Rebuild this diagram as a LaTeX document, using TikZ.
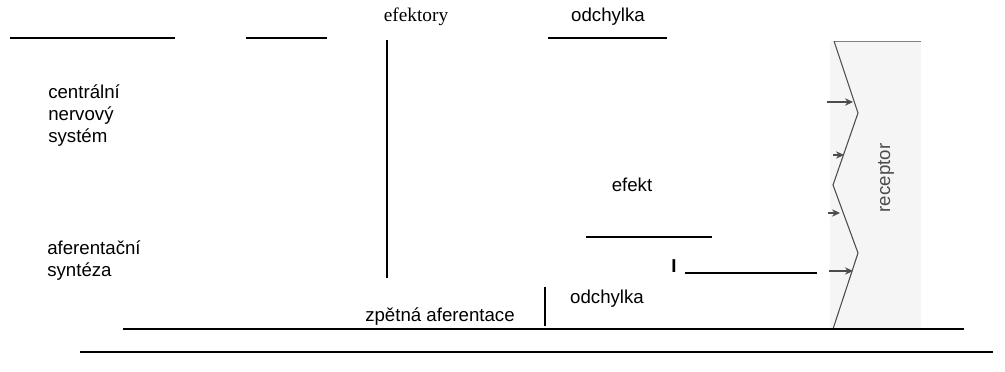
\documentclass[tikz,border=0pt]{standalone}
\usepackage{fontspec}
\setmainfont{Liberation Sans}
\newfontfamily\serifr{Liberation Serif}
\usetikzlibrary{arrows.meta}
\begin{document}
\begin{tikzpicture}[x=0.75pt,y=-0.75pt,
  lbl/.style={font=\fontsize{14}{16.5}\selectfont,inner sep=0pt},
  rule/.style={line width=0.9pt},
  thickrule/.style={line width=1.5pt},
  rec/.style={draw=black!70,line width=0.8pt},
  recarrow/.style={draw=black!70,line width=0.9pt,-{Stealth[length=6pt,width=5.5pt]}}]
\useasboundingbox (0,0) rectangle (1005,371);
% receptor image
\fill[black!4] (830,41) rectangle (921,329);
\draw[draw=black!50,line width=0.6pt] (834,41) -- (921,41);
\draw[rec] (834,41) -- (858,113) -- (833,185) -- (858,253) -- (833,329);
\coordinate (a1s) at (827,102);
\coordinate (a1e) at (853,102);
\draw[recarrow] (a1s) -- (a1e);
\coordinate (a2s) at (833,155);
\coordinate (a2e) at (844,155);
\draw[recarrow] (a2s) -- (a2e);
\coordinate (a3s) at (828,213);
\coordinate (a3e) at (840,213);
\draw[recarrow] (a3s) -- (a3e);
\coordinate (a4s) at (829,271);
\coordinate (a4e) at (853,271);
\draw[recarrow] (a4s) -- (a4e);
\node[lbl,font=\fontsize{14}{16}\selectfont,text=black!70,rotate=90] (receptor) at (886,178) {receptor};
% top lines
\draw[rule] (10,38) -- (175,38);
\draw[thickrule] (246,38) -- (327,38);
\node[lbl,font=\serifr\fontsize{14.5}{17}\selectfont] (efektory) at (416,17) {efektory};
\draw[thickrule] (387,40) -- (387,278);
\node[lbl] (odch1) at (608,17) {odchylka};
\draw[rule] (548,38) -- (667,38);
% left labels
\node[lbl,anchor=north west,align=left] (cns) at (48,84) {centrální\\nervový\\systém};
\node[lbl,anchor=north west,align=left] (aff) at (47,240) {aferentační\\syntéza};
% middle right
\node[lbl] (efekt) at (632,185) {efekt};
\draw[rule] (586,237) -- (712,237);
\node[lbl,font=\bfseries\fontsize{14}{16.5}\selectfont] (I) at (674,266) {I};
\draw[thickrule] (685,273) -- (817,273);
\node[lbl] (odch2) at (607,299) {odchylka};
\draw[thickrule] (545,287) -- (545,326);
\node[lbl] (zpet) at (440,317) {zpětná aferentace};
% bottom lines
\draw[rule] (123,329) -- (964,329);
\draw[rule] (80,352) -- (993,352);
\end{tikzpicture}
\end{document}
